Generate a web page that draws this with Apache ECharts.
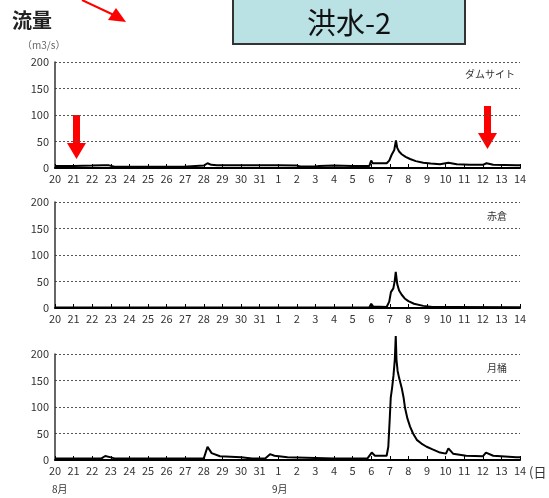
<!DOCTYPE html>
<html><head><meta charset="utf-8">
<script src="https://cdn.jsdelivr.net/npm/echarts@6/dist/echarts.min.js"></script>
<style>html,body{margin:0;padding:0;background:#fff}#c{width:549px;height:498px}</style>
</head><body><div id="c"></div><script>
// x = days since Aug 20 (Sep d = 11 + d)
const dayLabels = ['20','21','22','23','24','25','26','27','28','29','30','31','1','2','3','4','5','6','7','8','9','10','11','12','13','14'];
const stationNames = ['ダムサイト','赤倉','月桶'];
const damData = [[0,4],[1,4],[2,4.5],[2.6,5],[2.7,6.5],[2.9,5],[3.0,3],[3.2,2.5],[5,2.5],[6.9,2.5],[7.0,4],[8.0,4.5],[8.2,9],[8.4,6],[8.7,5],[10,5],[11.2,5],[11.3,6.5],[11.5,5],[12,5],[13,4.5],[13.2,3],[14,3],[14.2,4],[15,4.5],[16,4],[16.9,4],[17.0,14],[17.08,9],[17.83,9],[17.97,14],[18.1,25],[18.24,34],[18.33,52],[18.4,38],[18.5,31],[18.64,26],[18.85,21],[19.09,17],[19.4,13],[19.8,10],[20.2,8.5],[20.7,7],[21.15,10],[21.6,7],[22.3,6],[23.0,6],[23.2,9],[23.56,6],[24.8,5],[25,5]];
const akakuraData = [[0,1],[8.1,1],[8.2,3],[8.3,1],[16.9,1],[17.0,8],[17.1,3],[17.83,2],[17.97,12],[18.06,30],[18.19,37],[18.26,50],[18.32,68],[18.4,45],[18.5,33],[18.64,25],[18.8,18],[19.0,13],[19.3,8],[19.8,4],[20.3,2],[21.0,2],[21.1,5],[21.3,2],[25,1.5]];
const tsukiokeData = [[0,3],[2.5,3],[2.7,7.5],[3.0,5],[3.2,3],[8.0,3],[8.2,25],[8.42,13],[8.87,7],[10,5],[10.6,3],[11.3,3],[11.56,11],[11.8,8],[12.5,5],[14,4],[15,3],[16,3],[16.8,3],[17.03,14],[17.2,8],[17.83,8],[17.92,25],[18.0,80],[18.05,117],[18.13,138],[18.2,160],[18.27,190],[18.32,234],[18.36,189],[18.42,168],[18.5,155],[18.64,136],[18.74,118],[18.82,98],[18.95,78],[19.09,63],[19.25,50],[19.45,38],[19.7,31],[19.98,25],[20.3,20],[20.7,14],[21.02,12],[21.15,22],[21.4,12],[22.1,8],[23.0,7],[23.17,14],[23.56,8],[24.8,5],[25,5]];
const seriesData = [damData, akakuraData, tsukiokeData];

const FONT = '"Noto Sans CJK JP", sans-serif';
const gridTops = [62, 202, 354];
const grids = [], xAxes = [], yAxes = [], series = [];
gridTops.forEach((top, i) => {
  grids.push({left: 55, width: 465, top: top, height: 106});
  xAxes.push({type: 'value', gridIndex: i, min: 0, max: 25, interval: 1,
    axisLine: {lineStyle: {color: '#000', width: 2}},
    axisTick: {inside: true, length: 4, lineStyle: {color: '#000'}},
    axisLabel: {fontFamily: FONT, fontSize: 11, color: '#333', margin: 5,
      formatter: v => dayLabels[Math.round(v)]},
    splitLine: {show: false}});
  yAxes.push({type: 'value', gridIndex: i, min: 0, max: 200, interval: 50,
    axisLine: {show: true, lineStyle: {color: '#333', width: 1.5}},
    axisTick: {show: false},
    axisLabel: {fontFamily: FONT, fontSize: 11, color: '#333', margin: 6},
    splitLine: {show: true, lineStyle: {color: '#555', type: [2, 2], width: 1}}});
  series.push({type: 'line', xAxisIndex: i, yAxisIndex: i, data: seriesData[i],
    showSymbol: false, clip: false, lineStyle: {color: '#000', width: 2}, silent: true});
});

const labelPos = [[490, 74], [497, 216], [497, 368]];
const graphics = [
  {type: 'text', left: 12, top: 10, style: {text: '流量', font: 'bold 20px ' + FONT, fill: '#222'}},
  {type: 'text', left: 22, top: 40, style: {text: '（m3/s）', font: '10px ' + FONT, fill: '#666'}},
  {type: 'rect', shape: {x: 233, y: -2, width: 232, height: 46}, style: {fill: '#bae1e4', stroke: '#333', lineWidth: 2}},
  {type: 'text', x: 349, y: 23, style: {text: '洪水-2', font: '29px ' + FONT, fill: '#111', align: 'center', verticalAlign: 'middle'}},
  {type: 'line', shape: {x1: 82, y1: 0, x2: 116, y2: 16}, style: {stroke: '#f00', lineWidth: 2}},
  {type: 'polygon', shape: {points: [[126, 22], [108, 20], [116, 8]]}, style: {fill: '#f00'}},
  {type: 'polygon', shape: {points: [[73, 115], [80, 115], [80, 143], [86, 143], [76.5, 159], [67, 143], [73, 143]]}, style: {fill: '#f00'}},
  {type: 'polygon', shape: {points: [[484, 106], [491, 106], [491, 133], [497, 133], [487.5, 149], [478, 133], [484, 133]]}, style: {fill: '#f00'}},
  {type: 'text', x: 529, y: 472, style: {text: '(日', font: '13px ' + FONT, fill: '#333', verticalAlign: 'middle'}},
  {type: 'text', x: 52, y: 489, style: {text: '8月', font: '10px ' + FONT, fill: '#333', verticalAlign: 'middle'}},
  {type: 'text', x: 272, y: 489, style: {text: '9月', font: '10px ' + FONT, fill: '#333', verticalAlign: 'middle'}}
];
stationNames.forEach((n, i) => {
  graphics.push({type: 'text', x: labelPos[i][0], y: labelPos[i][1],
    style: {text: n, font: '10px ' + FONT, fill: '#333', align: 'center', verticalAlign: 'middle'}});
});

const chart = echarts.init(document.getElementById('c'), null, {renderer: 'canvas'});
chart.setOption({animation: false, backgroundColor: '#fff', grid: grids, xAxis: xAxes, yAxis: yAxes, series: series, graphic: graphics});
</script></body></html>
